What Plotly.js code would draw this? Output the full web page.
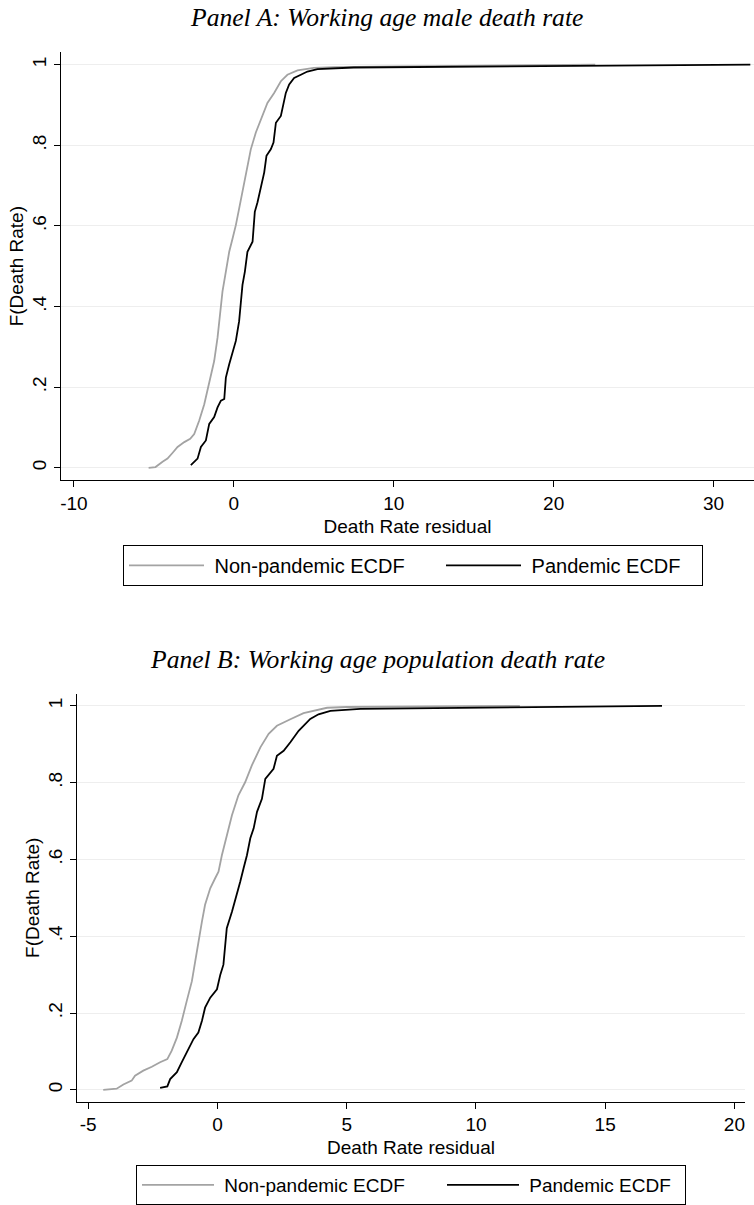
<!DOCTYPE html>
<html>
<head>
<meta charset="utf-8">
<script src="https://cdn.plot.ly/plotly-3.0.1.min.js"></script>
<style>
  html, body { margin: 0; padding: 0; background: #ffffff; }
  #chart { width: 754px; height: 1205px; }
</style>
</head>
<body>
<div id="chart"></div>
<script>
// Panel A: working age male death rate residuals (empirical CDFs)
const maleNonPandemicX = [-5.33, -4.9, -4.46, -4.15, -3.84, -3.52, -3.1, -2.73, -2.48, -2.17, -1.85, -1.54, -1.23, -1.02, -0.85, -0.71, -0.5, -0.29, -0.08, 0.125, 0.33, 0.54, 0.75, 1.06, 1.375, 1.69, 2.1, 2.52, 2.94, 3.35, 3.98, 5.0, 6.27, 10.4, 22.6];
const maleNonPandemicF = [0.0, 0.002, 0.015, 0.023, 0.037, 0.052, 0.064, 0.072, 0.084, 0.117, 0.158, 0.208, 0.265, 0.323, 0.388, 0.438, 0.487, 0.536, 0.569, 0.602, 0.643, 0.684, 0.733, 0.79, 0.832, 0.864, 0.905, 0.93, 0.959, 0.975, 0.986, 0.992, 0.994, 0.996, 1.0];
const malePandemicX = [-2.69, -2.27, -2.06, -1.75, -1.54, -1.23, -1.02, -0.81, -0.6, -0.5, -0.29, -0.08, 0.125, 0.33, 0.44, 0.54, 0.69, 0.85, 1.17, 1.31, 1.48, 1.69, 1.9, 2.04, 2.31, 2.48, 2.63, 2.94, 3.1, 3.25, 3.46, 3.77, 4.19, 4.6, 5.23, 7.5, 32.3];
const malePandemicF = [0.007, 0.023, 0.052, 0.068, 0.109, 0.126, 0.15, 0.167, 0.171, 0.224, 0.257, 0.29, 0.315, 0.364, 0.413, 0.454, 0.487, 0.536, 0.561, 0.635, 0.659, 0.7, 0.733, 0.774, 0.79, 0.807, 0.856, 0.873, 0.905, 0.93, 0.951, 0.967, 0.975, 0.983, 0.989, 0.993, 1.0];

// Panel B: working age population death rate residuals (empirical CDFs)
const popNonPandemicX = [-4.42, -3.9, -3.64, -3.32, -3.19, -2.87, -2.54, -2.22, -1.94, -1.77, -1.57, -1.38, -1.19, -0.99, -0.86, -0.74, -0.6, -0.48, -0.28, -0.09, 0.04, 0.17, 0.36, 0.56, 0.81, 1.07, 1.33, 1.66, 1.98, 2.3, 2.82, 3.33, 4.24, 5.0, 11.7];
const popNonPandemicF = [0.0, 0.003, 0.014, 0.024, 0.037, 0.05, 0.06, 0.072, 0.08, 0.102, 0.136, 0.18, 0.231, 0.283, 0.335, 0.387, 0.439, 0.482, 0.525, 0.551, 0.568, 0.611, 0.663, 0.715, 0.767, 0.801, 0.845, 0.892, 0.927, 0.948, 0.965, 0.981, 0.995, 0.997, 1.0];
const popPandemicX = [-2.22, -1.94, -1.83, -1.57, -1.38, -1.19, -0.93, -0.74, -0.6, -0.48, -0.28, -0.02, 0.11, 0.23, 0.36, 0.56, 0.75, 0.88, 1.01, 1.14, 1.27, 1.4, 1.53, 1.72, 1.85, 2.17, 2.3, 2.56, 2.82, 3.14, 3.59, 3.91, 4.37, 5.0, 5.53, 17.2];
const popPandemicF = [0.005, 0.009, 0.028, 0.046, 0.072, 0.098, 0.132, 0.149, 0.18, 0.214, 0.24, 0.262, 0.3, 0.326, 0.421, 0.464, 0.508, 0.542, 0.577, 0.611, 0.655, 0.681, 0.724, 0.758, 0.81, 0.836, 0.87, 0.883, 0.905, 0.935, 0.966, 0.978, 0.987, 0.99, 0.992, 1.0];

// Labels and ticks
const seriesNames = ['Non-pandemic ECDF', 'Pandemic ECDF'];
const panelTitles = ['Panel A: Working age male death rate', 'Panel B: Working age population death rate'];
const xAxisTitle = 'Death Rate residual';
const yAxisTitle = 'F(Death Rate)';
const yTickVals = [0, 0.2, 0.4, 0.6, 0.8, 1];
const yTickText = ['0', '.2', '.4', '.6', '.8', '1'];
const xTickValsA = [-10, 0, 10, 20, 30];
const xTickTextA = ['-10', '0', '10', '20', '30'];
const xTickValsB = [-5, 0, 5, 10, 15, 20];
const xTickTextB = ['-5', '0', '5', '10', '15', '20'];

const W = 754, H = 1205;
const SANS = 'Liberation Sans, Arial, Helvetica, sans-serif';
const SERIF = 'Liberation Serif, Times New Roman, serif';
const GREY = '#a3a3a3';
const BLACK = '#000000';
const NBSP = '\u00a0';
const px = v => v / W;
const py = v => 1 - v / H;

// legend entry widths (px) keep the two keys spaced like the boxed legend
const traces = [
  { x: maleNonPandemicX, y: maleNonPandemicF, name: NBSP + seriesNames[0], type: 'scatter', mode: 'lines',
    line: { color: GREY, width: 1.8 }, xaxis: 'x', yaxis: 'y', legend: 'legend', legendwidth: 227 },
  { x: malePandemicX, y: malePandemicF, name: NBSP + seriesNames[1], type: 'scatter', mode: 'lines',
    line: { color: BLACK, width: 1.8 }, xaxis: 'x', yaxis: 'y', legend: 'legend', legendwidth: 171 },
  { x: popNonPandemicX, y: popNonPandemicF, name: NBSP + seriesNames[0], type: 'scatter', mode: 'lines',
    line: { color: GREY, width: 1.8 }, xaxis: 'x2', yaxis: 'y2', legend: 'legend2', legendwidth: 218 },
  { x: popPandemicX, y: popPandemicF, name: NBSP + seriesNames[1], type: 'scatter', mode: 'lines',
    line: { color: BLACK, width: 1.8 }, xaxis: 'x2', yaxis: 'y2', legend: 'legend2', legendwidth: 156 }
];

const tickFont = { family: SANS, size: 19, color: '#000' };
const titleFont = { family: SANS, size: 19, color: '#000' };

function xAxis(domain, range, vals, text, anchor) {
  return {
    domain: domain, range: range, anchor: anchor,
    showline: true, linecolor: '#000', linewidth: 1,
    ticks: 'outside', ticklen: 6, tickcolor: '#000', tickwidth: 1,
    tickmode: 'array', tickvals: vals, ticktext: text,
    tickfont: tickFont, showgrid: false, zeroline: false,
    title: { text: xAxisTitle, font: titleFont, standoff: 6 }
  };
}
function yAxis(domain, anchor) {
  return {
    domain: domain, range: [-0.0305, 1.031], anchor: anchor,
    showline: true, linecolor: '#000', linewidth: 1,
    ticks: 'outside', ticklen: 6, tickcolor: '#000', tickwidth: 1,
    tickmode: 'array', tickvals: yTickVals, ticktext: yTickText, tickangle: -90,
    tickfont: tickFont, showgrid: true, gridcolor: '#eeeeee', gridwidth: 1, zeroline: false,
    title: { text: yAxisTitle, font: titleFont, standoff: 0 }
  };
}
function legendBox(x, y, size, symbolWidth) {
  return {
    orientation: 'h', x: px(x), y: py(y), xanchor: 'left', yanchor: 'top',
    bordercolor: '#000', borderwidth: 1, bgcolor: '#fff',
    font: { family: SANS, size: size, color: '#000' }, itemwidth: symbolWidth, traceorder: 'normal'
  };
}

const layout = {
  width: W, height: H,
  margin: { l: 0, r: 0, t: 0, b: 0 },
  paper_bgcolor: '#fff', plot_bgcolor: '#fff',
  showlegend: true,
  xaxis: xAxis([px(61), 1], [-10.81, 32.53], xTickValsA, xTickTextA, 'y'),
  yaxis: yAxis([py(483), py(52.5)], 'x'),
  xaxis2: xAxis([px(77), px(745)], [-5.435, 20.41], xTickValsB, xTickTextB, 'y2'),
  yaxis2: yAxis([py(1108), py(698)], 'x2'),
  legend: legendBox(123, 548, 20, 75),
  legend2: legendBox(136, 1172, 19, 72),
  annotations: [
    { text: '<i>' + panelTitles[0] + '</i>', xref: 'paper', yref: 'paper', x: px(386), y: py(18),
      xanchor: 'center', yanchor: 'middle', showarrow: false, font: { family: SERIF, size: 25.6, color: '#000' } },
    { text: '<i>' + panelTitles[1] + '</i>', xref: 'paper', yref: 'paper', x: px(377), y: py(663),
      xanchor: 'center', yanchor: 'middle', showarrow: false, font: { family: SERIF, size: 25.6, color: '#000' } }
  ]
};

Plotly.newPlot('chart', traces, layout, { staticPlot: true, displayModeBar: false });
</script>
</body>
</html>
